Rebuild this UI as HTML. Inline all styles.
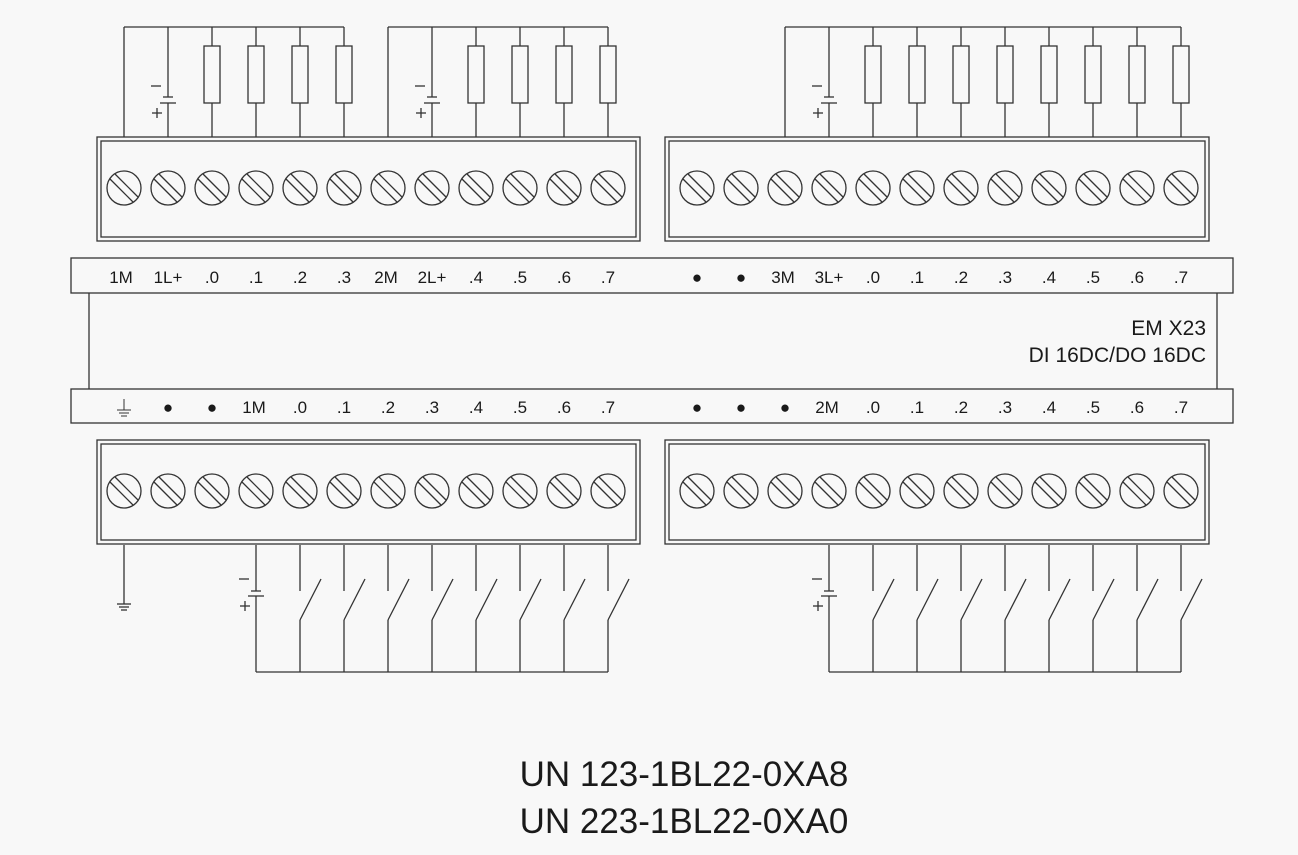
<!DOCTYPE html>
<html><head><meta charset="utf-8"><style>
html,body{margin:0;padding:0;background:#f8f8f8;}
svg{display:block}
text{font-family:"Liberation Sans",Arial,sans-serif;fill:#1a1a1a}
</style></head><body>
<svg id="s" width="1298" height="855" xmlns="http://www.w3.org/2000/svg">
<rect width="1298" height="855" fill="#f8f8f8"/>
<g id="g" stroke="#333" stroke-width="1.3" fill="none"></g>
<g font-size="17" text-anchor="middle">
<text x="121" y="283">1M</text><text x="168" y="283">1L+</text><text x="212" y="283">.0</text><text x="256" y="283">.1</text><text x="300" y="283">.2</text><text x="344" y="283">.3</text><text x="386" y="283">2M</text><text x="432" y="283">2L+</text><text x="476" y="283">.4</text><text x="520" y="283">.5</text><text x="564" y="283">.6</text><text x="608" y="283">.7</text>
<text x="697" y="283">●</text><text x="741" y="283">●</text><text x="783" y="283">3M</text><text x="829" y="283">3L+</text><text x="873" y="283">.0</text><text x="917" y="283">.1</text><text x="961" y="283">.2</text><text x="1005" y="283">.3</text><text x="1049" y="283">.4</text><text x="1093" y="283">.5</text><text x="1137" y="283">.6</text><text x="1181" y="283">.7</text>
<text x="168" y="413">●</text><text x="212" y="413">●</text><text x="254" y="413">1M</text><text x="300" y="413">.0</text><text x="344" y="413">.1</text><text x="388" y="413">.2</text><text x="432" y="413">.3</text><text x="476" y="413">.4</text><text x="520" y="413">.5</text><text x="564" y="413">.6</text><text x="608" y="413">.7</text>
<text x="697" y="413">●</text><text x="741" y="413">●</text><text x="785" y="413">●</text><text x="827" y="413">2M</text><text x="873" y="413">.0</text><text x="917" y="413">.1</text><text x="961" y="413">.2</text><text x="1005" y="413">.3</text><text x="1049" y="413">.4</text><text x="1093" y="413">.5</text><text x="1137" y="413">.6</text><text x="1181" y="413">.7</text>
</g>
<g font-size="21" text-anchor="end">
<text x="1206" y="335">EM X23</text>
<text x="1206" y="362">DI 16DC/DO 16DC</text>
</g>
<g font-size="35" text-anchor="middle">
<text x="684" y="786">UN 123-1BL22-0XA8</text>
<text x="684" y="833">UN 223-1BL22-0XA0</text>
</g>
</svg>
<script>
var g=document.getElementById('g'),h='';
function L(a,b,c,d,w){h+='<line x1="'+a+'" y1="'+b+'" x2="'+c+'" y2="'+d+'"'+(w?' stroke-width="'+w+'"':'')+'/>';}
function R(x,y,w,hh){h+='<rect x="'+x+'" y="'+y+'" width="'+w+'" height="'+hh+'"/>';}
var XL=[],XR=[];for(var i=0;i<12;i++){XL.push(124+44*i);XR.push(697+44*i);}
[[97,137],[97,440],[665,137],[665,440]].forEach(function(p){
 var x=p[0],y=p[1];var w=(x==97?543:544);R(x,y,w,104);R(x+4,y+4,w-8,96);});
function screw(cx,cy){h+='<circle cx="'+cx+'" cy="'+cy+'" r="17"/>';
 L(cx-14,cy-9,cx+9,cy+14);L(cx-9,cy-14,cx+14,cy+9);}
XL.concat(XR).forEach(function(x){screw(x,188);screw(x,491);});
R(71,258,1162,35);R(71,389,1162,34);
L(89,293,89,389);L(1217,293,1217,389);
function topGroup(x0,x1,bat){
 L(x0,27,x1,27);L(x0,27,x0,137);
 L(bat,27,bat,97);L(bat-5,97,bat+5,97);L(bat-8,103,bat+8,103);L(bat,103,bat,137);
 L(bat-17,86,bat-7,86);L(bat-16,113,bat-6,113);L(bat-11,108,bat-11,118);
 for(var x=bat+44;x<=x1;x+=44){L(x,27,x,46);R(x-8,46,16,57);L(x,103,x,137);}
}
topGroup(124,344,168);topGroup(388,608,432);topGroup(785,1181,829);
L(124,545,124,604);L(117,604,131,604);L(119,607,129,607);L(121,610,127,610);
function botGroup(bat,x1){
 L(bat,545,bat,591);L(bat-5,591,bat+5,591);L(bat-8,596,bat+8,596);L(bat,596,bat,672);
 L(bat-17,579,bat-7,579);L(bat-16,606,bat-6,606);L(bat-11,601,bat-11,611);
 L(bat,672,x1,672);
 for(var x=bat+44;x<=x1;x+=44){L(x,545,x,591);L(x,620,x+21,579);L(x,620,x,672);}
}
botGroup(256,608);botGroup(829,1181);
L(124,399,124,410,1);L(117,410,131,410,1);L(119,413,129,413,1);L(121,416,127,416,1);
g.innerHTML=h;
</script>
</body></html>
